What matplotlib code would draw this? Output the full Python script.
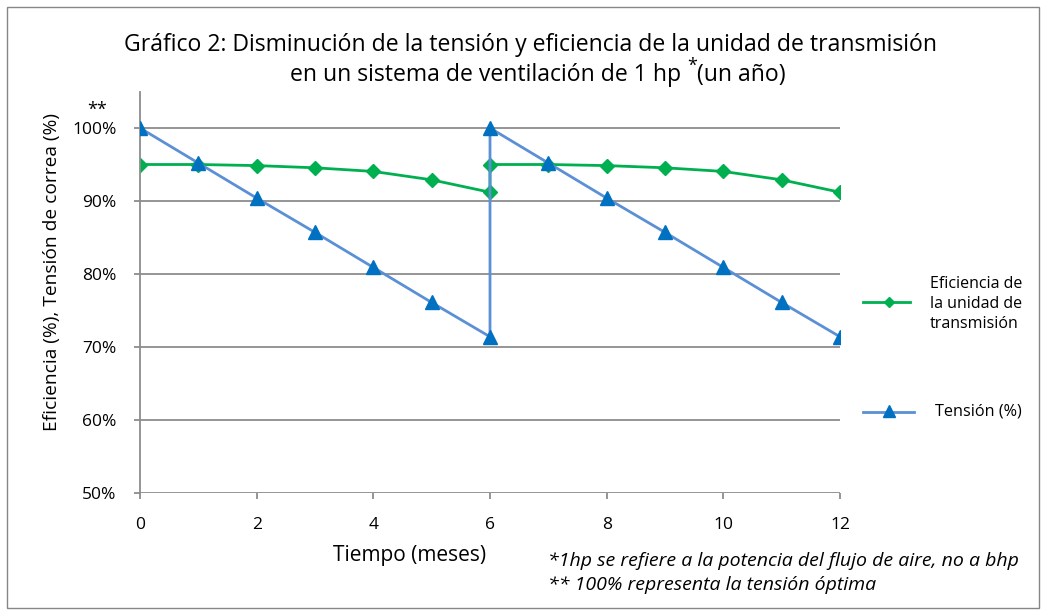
import matplotlib.pyplot as plt
import matplotlib.patches as mpatches
from matplotlib.lines import Line2D
import numpy as np

plt.rcParams['font.family'] = ['Open Sans', 'DejaVu Sans']

# ---- data ----
meses = [0, 1, 2, 3, 4, 5, 6, 6, 7, 8, 9, 10, 11, 12]
eficiencia = [95.0, 95.0, 94.85, 94.55, 94.05, 92.9, 91.2,
              95.0, 95.0, 94.85, 94.55, 94.05, 92.9, 91.2]
tension = [100.0, 95.2, 90.4, 85.7, 80.9, 76.1, 71.4,
           100.0, 95.2, 90.4, 85.7, 80.9, 76.1, 71.4]
yticks = [50, 60, 70, 80, 90, 100]
xticks = [0, 2, 4, 6, 8, 10, 12]

verde = '#00B050'
azul_linea = '#5B8FD6'
azul_marca = '#0070C0'
gris = '#8C8C8C'

W, H = 1046, 615
fig = plt.figure(figsize=(W / 100, H / 100), dpi=100)
# marco gris del grafico
fig.patches.append(mpatches.Rectangle((7 / W, 7 / H), 1 - 14 / W, 1 - 14 / H,
                                      transform=fig.transFigure, fill=False,
                                      edgecolor='#868686', lw=1))

ax = fig.add_axes([140 / W, 1 - 493 / H, 700 / W, (493 - 91.5) / H])

ax.plot(meses, tension, color=azul_linea, lw=2, marker='^', ms=10.5,
        mfc=azul_marca, mec=azul_marca, zorder=3)
ax.plot(meses, eficiencia, color=verde, lw=2, marker='D', ms=7.5,
        mfc=verde, mec=verde, zorder=2)

ax.set_xlim(0, 12)
ax.set_ylim(50, 105)
ax.set_xticks(xticks)
ax.set_yticks(yticks)
ax.set_yticklabels([f'{v}%' for v in yticks])
ax.tick_params(axis='both', length=4, width=1.3, color=gris,
               labelsize=12.5, labelcolor='black', direction='out')
ax.tick_params(axis='y', pad=13)
ax.tick_params(axis='x', pad=13)
for v in yticks:
    ax.axhline(v, color=gris, lw=1.3, zorder=1)
for s in ['top', 'right', 'bottom']:
    ax.spines[s].set_visible(False)
ax.spines['left'].set_color(gris)
ax.spines['left'].set_linewidth(1.3)
ax.set_facecolor('none')

# titulos y etiquetas
fig.text(530 / W, 1 - 45 / H,
         'Gráfico 2: Disminución de la tensión y eficiencia de la unidad de transmisión',
         ha='center', va='center', fontsize=16.6)
fig.text(681 / W, 1 - 75 / H, 'en un sistema de ventilación de 1 hp',
         ha='right', va='center', fontsize=16.6)
fig.text(692 / W, 1 - 66 / H, '*', ha='center', va='center', fontsize=13)
fig.text(697 / W, 1 - 75 / H, '(un año)', ha='left', va='center',
         fontsize=16.6)

fig.text(52 / W, 1 - 272 / H, 'Eficiencia (%), Tensión de correa (%)',
         rotation=90, ha='center', va='center', fontsize=13.8)
fig.text(410 / W, 1 - 555 / H, 'Tiempo (meses)', ha='center', va='center',
         fontsize=15)
fig.text(97 / W, 1 - 110 / H, '**', ha='center', va='center', fontsize=13)

fig.text(548 / W, 1 - 561 / H,
         '*1hp se refiere a la potencia del flujo de aire, no a bhp',
         ha='left', va='center', fontsize=14, style='italic')
fig.text(548 / W, 1 - 585 / H, '** 100% representa la tensión óptima',
         ha='left', va='center', fontsize=14, style='italic')

# leyenda dibujada a mano
fig.add_artist(Line2D([863 / W, 910 / W], [1 - 302 / H, 1 - 302 / H],
                      color=verde, lw=2))
fig.add_artist(Line2D([889 / W], [1 - 302 / H], marker='D', ms=5.5,
                      color=verde))
fig.text(930 / W, 1 - 304 / H, 'Eficiencia de\nla unidad de\ntransmisión',
         ha='left', va='center', fontsize=11.5, linespacing=1.3)
fig.add_artist(Line2D([863 / W, 914 / W], [1 - 412 / H, 1 - 412 / H],
                      color=azul_linea, lw=2))
fig.add_artist(Line2D([889 / W], [1 - 411 / H], marker='^', ms=8,
                      color=azul_marca))
fig.text(935 / W, 1 - 412 / H, 'Tensión (%)', ha='left', va='center',
         fontsize=11.7)

fig.savefig('out.png', dpi=100)
